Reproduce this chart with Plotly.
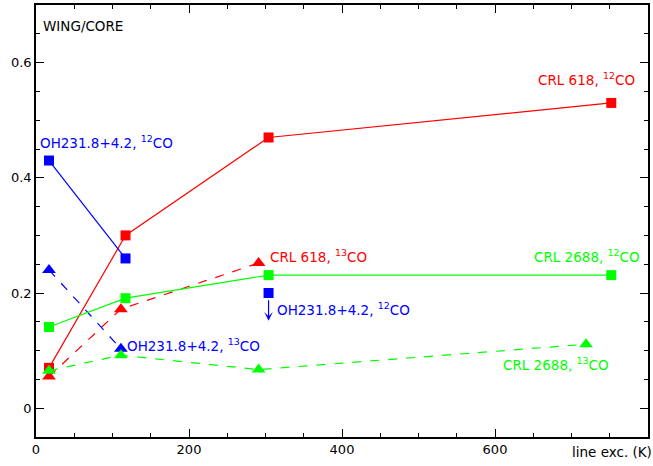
import plotly.graph_objects as go

# ---- data ----
crl618_12_x = [17, 117, 304, 752]
crl618_12_y = [0.07, 0.30, 0.47, 0.53]
crl618_13_x = [17, 111, 291]
crl618_13_y = [0.055, 0.172, 0.252]
oh231_12_x = [17, 117]
oh231_12_y = [0.43, 0.26]
oh231_12_lim_x = [304]
oh231_12_lim_y = [0.20]
oh231_13_x = [17, 111]
oh231_13_y = [0.24, 0.103]
crl2688_12_x = [17, 117, 304, 752]
crl2688_12_y = [0.141, 0.191, 0.231, 0.231]
crl2688_13_x = [17, 111, 291, 719]
crl2688_13_y = [0.065, 0.092, 0.067, 0.111]

x_ticks = [0, 200, 400, 600]
y_ticks = [0, 0.2, 0.4, 0.6]
y_ticklabels = ["0", "0.2", "0.4", "0.6"]

RED = "#ff0000"
BLUE = "#0000ff"
GREEN = "#00ff00"
FONT = "DejaVu Sans"
LSIZE = 13.5

fig = go.Figure()

def add(x, y, color, dash, symbol, size):
    fig.add_trace(go.Scatter(
        x=x, y=y, mode="lines+markers",
        line=dict(color=color, width=1.2, dash=dash),
        marker=dict(symbol=symbol, size=size, color=color, line=dict(width=0)),
        showlegend=False, hoverinfo="skip"))

add(crl618_12_x, crl618_12_y, RED, "solid", "square", 10)
add(crl618_13_x, crl618_13_y, RED, "dash", "triangle-up", 12)
add(oh231_12_x, oh231_12_y, BLUE, "solid", "square", 10)
add(oh231_13_x, oh231_13_y, BLUE, "dash", "triangle-up", 12)
add(crl2688_12_x, crl2688_12_y, GREEN, "solid", "square", 10)
add(crl2688_13_x, crl2688_13_y, GREEN, "dash", "triangle-up", 12)
fig.add_trace(go.Scatter(
    x=oh231_12_lim_x, y=oh231_12_lim_y, mode="markers",
    marker=dict(symbol="square", size=10, color=BLUE, line=dict(width=0)),
    showlegend=False, hoverinfo="skip"))

# upper-limit arrow
fig.add_annotation(x=oh231_12_lim_x[0], y=oh231_12_lim_y[0] - 0.048,
                   ax=oh231_12_lim_x[0], ay=oh231_12_lim_y[0] - 0.01,
                   xref="x", yref="y", axref="x", ayref="y",
                   showarrow=True, arrowhead=3, arrowsize=1.2,
                   arrowwidth=1.2, arrowcolor=BLUE, text="")

def label(x, y, text, color, xanchor="left"):
    fig.add_annotation(x=x, y=y, xref="x", yref="y", text=text,
                       showarrow=False, xanchor=xanchor, yanchor="middle",
                       font=dict(family=FONT, size=LSIZE, color=color))

label(7, 0.663, "WING/CORE", "black")
label(2, 0.462, "OH231.8+4.2, <sup>12</sup>CO", BLUE)
label(786, 0.572, "CRL 618, <sup>12</sup>CO", RED, "right")
label(303, 0.264, "CRL 618, <sup>13</sup>CO", RED)
label(312, 0.172, "OH231.8+4.2, <sup>12</sup>CO", BLUE)
label(116, 0.109, "OH231.8+4.2, <sup>13</sup>CO", BLUE)
label(792, 0.264, "CRL 2688, <sup>12</sup>CO", GREEN, "right")
label(752, 0.076, "CRL 2688, <sup>13</sup>CO", GREEN, "right")

fig.add_annotation(x=1.009, y=-0.034, xref="paper", yref="paper",
                   text="line exc. (K)", showarrow=False,
                   xanchor="right", yanchor="middle",
                   font=dict(family=FONT, size=LSIZE, color="black"))

axis_common = dict(showgrid=False, zeroline=False, showline=True,
                   linecolor="black", linewidth=1.5, mirror="allticks",
                   ticks="inside", ticklen=8, tickwidth=1, tickcolor="black",
                   tickfont=dict(family=FONT, size=13, color="black"))

fig.update_xaxes(range=[0, 800], tickvals=x_ticks,
                 minor=dict(dtick=50, ticks="inside", ticklen=4, tickcolor="black"),
                 **axis_common)
fig.update_yaxes(range=[-0.05, 0.7], tickvals=y_ticks, ticktext=y_ticklabels,
                 minor=dict(dtick=0.05, ticks="inside", ticklen=4, tickcolor="black"),
                 **axis_common)

fig.update_layout(width=653, height=466,
                  margin=dict(l=36, r=4, t=3, b=29),
                  paper_bgcolor="white", plot_bgcolor="white",
                  font=dict(family=FONT, size=13))

fig.write_html("out.html")
